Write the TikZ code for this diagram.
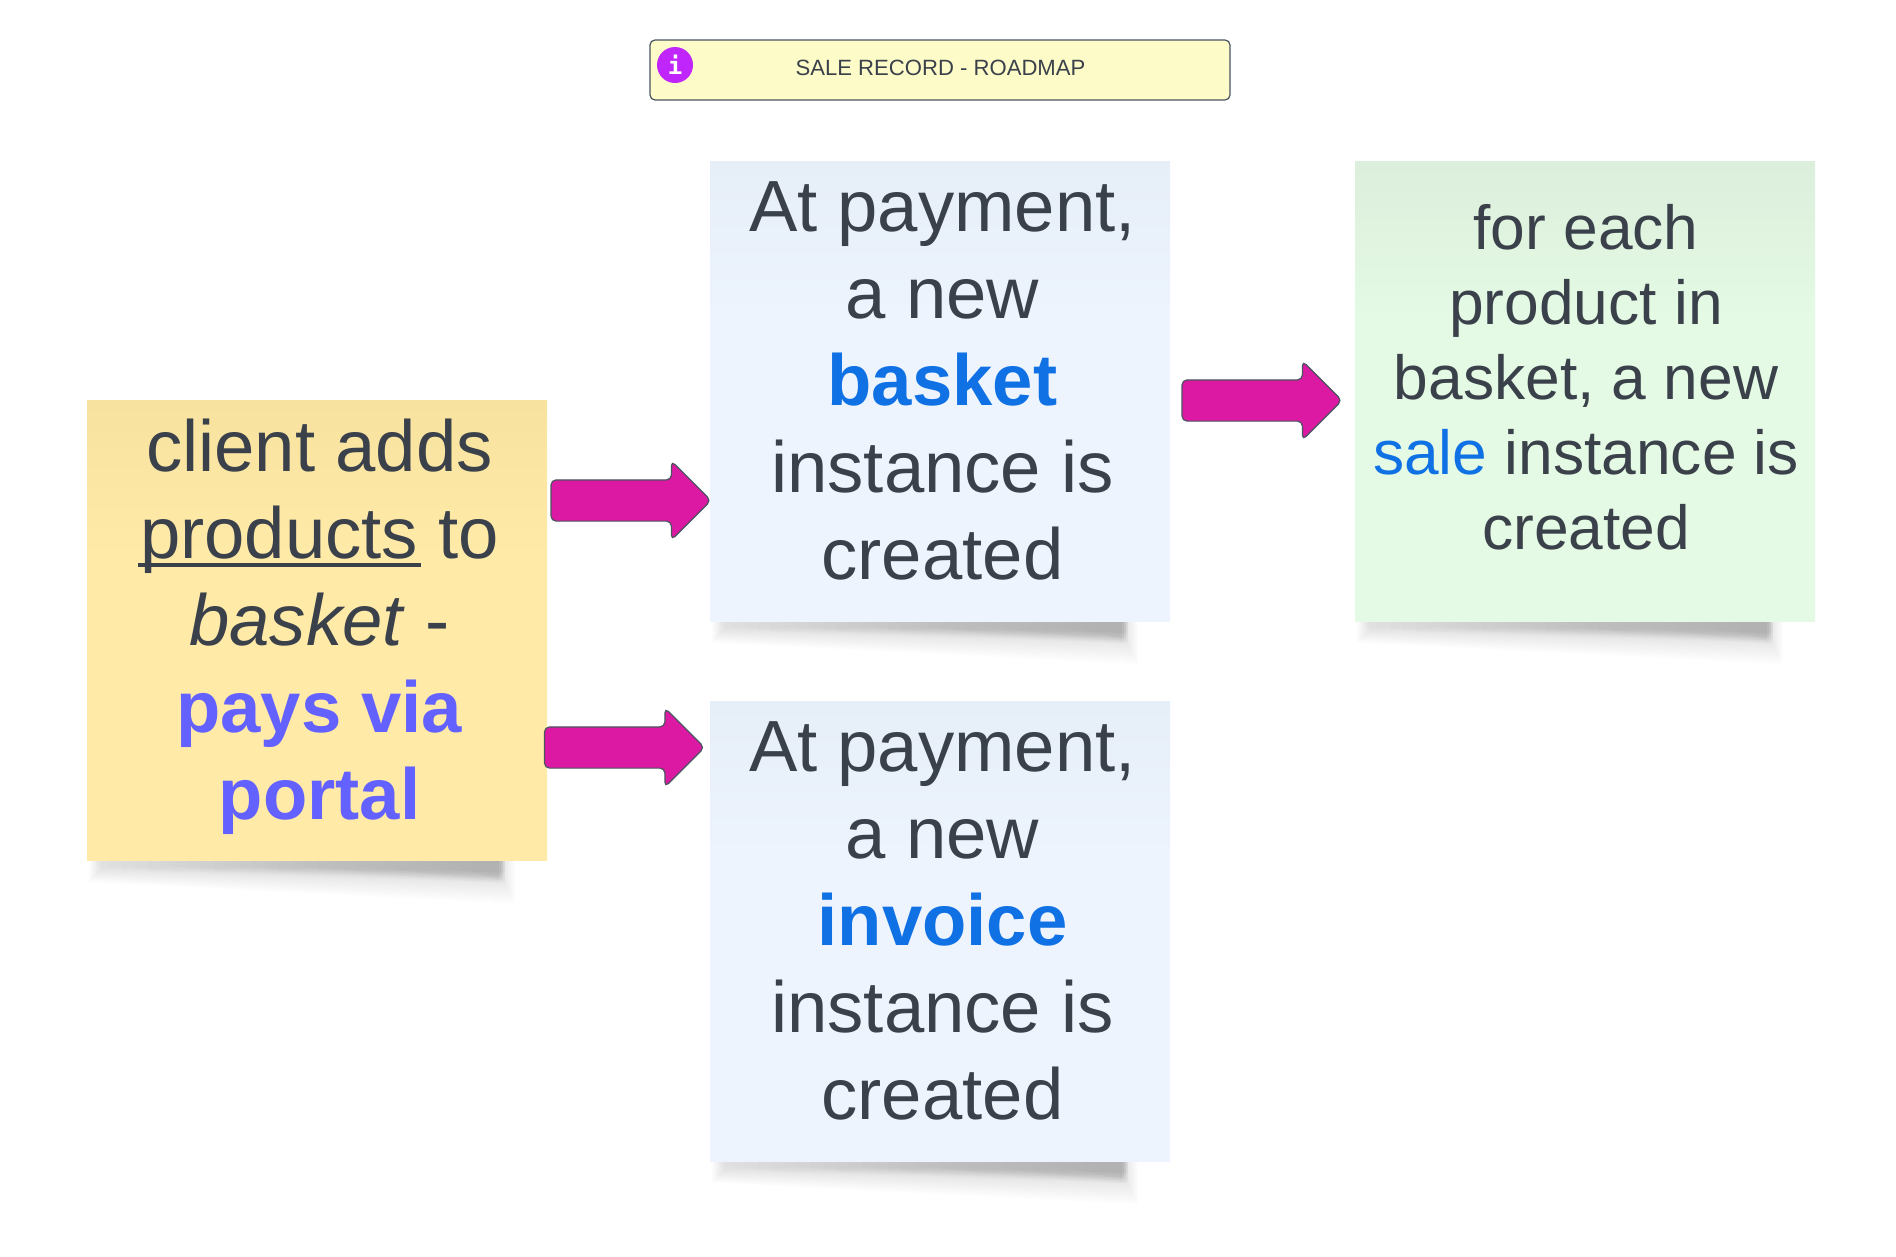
\documentclass[tikz,border=0pt]{standalone}
\usepackage{fontspec}
\setmainfont{Liberation Sans}
\newfontfamily\iconfont{DejaVu Sans Mono}
\usetikzlibrary{calc,shapes.arrows,backgrounds}
\definecolor{inkgray}{HTML}{3A414A}
\definecolor{basketblue}{HTML}{1071E5}
\definecolor{portalblue}{HTML}{6361FF}
\definecolor{arrowpink}{HTML}{DB19A2}
\definecolor{arrowedge}{HTML}{4A5560}
\definecolor{iconpurple}{HTML}{C026FB}
\definecolor{titlefill}{HTML}{FDFBC8}
\definecolor{yellowtop}{HTML}{F8E29F}
\definecolor{yellowbase}{HTML}{FFEAA8}
\definecolor{bluetop}{HTML}{E6EEF7}
\definecolor{bluebase}{HTML}{EDF4FD}
\definecolor{greentop}{HTML}{DCEEDC}
\definecolor{greenbase}{HTML}{E4FAE4}
\pgfdeclareverticalshading{yellownote}{100bp}{color(0bp)=(yellowbase);color(58bp)=(yellowbase);color(75bp)=(yellowtop);color(100bp)=(yellowtop)}
\pgfdeclareverticalshading{bluenote}{100bp}{color(0bp)=(bluebase);color(58bp)=(bluebase);color(75bp)=(bluetop);color(100bp)=(bluetop)}
\pgfdeclareverticalshading{greennote}{100bp}{color(0bp)=(greenbase);color(58bp)=(greenbase);color(75bp)=(greentop);color(100bp)=(greentop)}
\newcommand{\ulword}[1]{\setbox0\hbox{#1}\rlap{\hskip-2pt\rule[-8pt]{\dimexpr\wd0+5pt\relax}{3.5pt}}\box0\relax}
\newcommand{\noteshadow}[1]{%
  \foreach \d [evaluate=\d as \inr using 32+(44-\d)*.5,evaluate=\d as \inl using 1+(44-\d)*.5] in {44,43,...,16}
    \fill[black,opacity=.005]
      ($(#1.north west)+(6,60)$) -- ($(#1.south west)+(\inl,.5*\d)$)
      -- ($(#1.south east)+(-\inr,\d)$) -- ($(#1.south east)+(-\inr,-10)$) -- cycle;
  \foreach \i [evaluate=\i as \inl using 9+\i*13,evaluate=\i as \d using {12+mod(\i,5)*2.5},evaluate=\i as \inr using {42+mod(\i,4)*2}] in {0,...,29}
    \fill[black,opacity=.009]
      ($(#1.south west)+(\inl,-10)$) -- ($(#1.south west)+(\inl,.5*\d)$)
      -- ($(#1.south east)+(-\inr,\d)$) -- ($(#1.south east)+(-\inr,-10)$) -- cycle;
}
\tikzset{
  notebox/.style={minimum size=460pt,inner sep=0pt,outer sep=0pt,shading=#1note,shading angle=0},
  notetext/.style={text=inkgray,align=center,inner sep=0pt},
  bigtext/.style={notetext,font=\fontsize{72.5}{87}\selectfont},
  midtext/.style={notetext,font=\fontsize{62.3}{75}\selectfont},
  blockarrow/.style={single arrow,draw=arrowedge,fill=arrowpink,line width=1.2pt,anchor=tail,
    minimum height=160pt,minimum width=78pt,single arrow head extend=19pt,
    inner xsep=0pt,inner ysep=20pt,outer sep=0pt,rounded corners=5pt},
}
\begin{document}
\begin{tikzpicture}[x=1pt,y=-1pt]
  \useasboundingbox (0,0) rectangle (1896,1256);
  \node[notebox=yellow] (client) at (317,630.5) {};
  \node[notebox=blue] (basket) at (940,391) {};
  \node[notebox=blue] (invoice) at (940,931) {};
  \node[notebox=green] (sale) at (1585,391) {};
  \begin{scope}[on background layer]
    \noteshadow{client}
    \noteshadow{basket}
    \noteshadow{invoice}
    \noteshadow{sale}
  \end{scope}
  \node[bigtext] (clienttxt) at (319.5,627) {client adds\\\ulword{products} to\\\textit{basket} -\\\textcolor{portalblue}{\textbf{pays via}}\\\textcolor{portalblue}{\textbf{portal}}};
  \node[bigtext] (baskettxt) at (942.5,381) {At payment,\\a new\\\textcolor{basketblue}{\textbf{basket}}\\instance is\\created};
  \node[bigtext] (invoicetxt) at (942.5,921) {At payment,\\a new\\\textcolor{basketblue}{\textbf{invoice}}\\instance is\\created};
  \node[midtext] (saletxt) at (1586,377.5) {for each\\product in\\basket, a new\\\textcolor{basketblue}{sale} instance is\\created};
  \node[blockarrow] (toBasket) at (551,500.5) {};
  \node[blockarrow] (toInvoice) at (544.5,747.5) {};
  \node[blockarrow] (toSale) at (1182,400.5) {};
  \node[draw=arrowedge,fill=titlefill,line width=1.2pt,rounded corners=5pt,minimum width=580pt,minimum height=60pt,inner sep=0pt] (title) at (940,70) {};
  \node[text=inkgray,font=\fontsize{22.1}{26}\selectfont,inner sep=0pt] (titletxt) at (940.5,68) {SALE RECORD - ROADMAP};
  \node[circle,fill=iconpurple,minimum size=36pt,inner sep=0pt,text=white,font=\fontsize{24}{24}\iconfont\bfseries] (info) at (675,65) {i};
\end{tikzpicture}
\end{document}
